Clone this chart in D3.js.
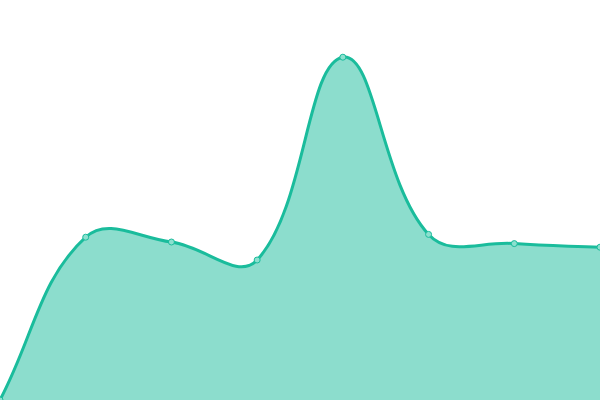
<!DOCTYPE html>
<html>
<head>
<meta charset="utf-8">
<script src="https://cdn.jsdelivr.net/npm/d3@7"></script>
<style>
html,body{margin:0;padding:0;background:#fff;}
svg{display:block;}
</style>
</head>
<body>
<svg id="chart" width="600" height="400"></svg>
<script>
const categories = ["A","B","C","D","E","F","G","H"];
const values = [0, 40.7, 39.5, 35.0, 85.7, 41.4, 39.1, 38.2];
const yDomain = [0, 100];

const W = 600, H = 400;
const svg = d3.select("#chart");

const x = d3.scalePoint().domain(categories).range([0, W]);
const y = d3.scaleLinear().domain(yDomain).range([H, 0]);

// Chart.js-style spline (tension 0.4, distance weighted)
function ChartSpline(context){ this._context = context; }
ChartSpline.prototype = {
  areaStart(){ this._line = 0; },
  areaEnd(){ this._line = NaN; },
  lineStart(){ this._pts = []; },
  point(px, py){ this._pts.push([+px, +py]); },
  lineEnd(){
    const p = this._pts, n = p.length, c = this._context, t = 0.4;
    if (n) {
      if (this._line) c.lineTo(p[0][0], p[0][1]); else c.moveTo(p[0][0], p[0][1]);
      const cps = p.map((cur, i) => {
        const prev = p[i-1] || cur, next = p[i+1] || cur;
        const d01 = Math.hypot(cur[0]-prev[0], cur[1]-prev[1]);
        const d12 = Math.hypot(next[0]-cur[0], next[1]-cur[1]);
        let s01 = d01/(d01+d12), s12 = d12/(d01+d12);
        if (isNaN(s01)) s01 = 0; if (isNaN(s12)) s12 = 0;
        const fa = t*s01, fb = t*s12;
        return {
          prev: [cur[0]-fa*(next[0]-prev[0]), cur[1]-fa*(next[1]-prev[1])],
          next: [cur[0]+fb*(next[0]-prev[0]), cur[1]+fb*(next[1]-prev[1])]
        };
      });
      for (let i = 1; i < n; i++) {
        const a = cps[i-1].next, b = cps[i].prev;
        c.bezierCurveTo(a[0], a[1], b[0], b[1], p[i][0], p[i][1]);
      }
    }
    if (this._line || (this._line !== 0 && n === 1)) c.closePath();
    this._line = 1 - this._line;
  }
};
const curve = ctx => new ChartSpline(ctx);

const data = categories.map((c, i) => ({c, v: values[i]}));

svg.append("path")
  .datum(data)
  .attr("fill", "rgba(26,188,156,0.5)")
  .attr("d", d3.area().curve(curve).x(d => x(d.c)).y0(y(0)).y1(d => y(d.v)));

svg.append("path")
  .datum(data)
  .attr("fill", "none")
  .attr("stroke", "#1abc9c")
  .attr("stroke-width", 3)
  .attr("d", d3.line().curve(curve).x(d => x(d.c)).y(d => y(d.v)));

svg.selectAll("circle.pt")
  .data(data)
  .join("circle")
  .attr("class", "pt")
  .attr("cx", d => x(d.c))
  .attr("cy", d => y(d.v))
  .attr("r", 3)
  .attr("fill", "#8ce0cf")
  .attr("stroke", "#1abc9c")
  .attr("stroke-width", 1);
</script>
</body>
</html>
